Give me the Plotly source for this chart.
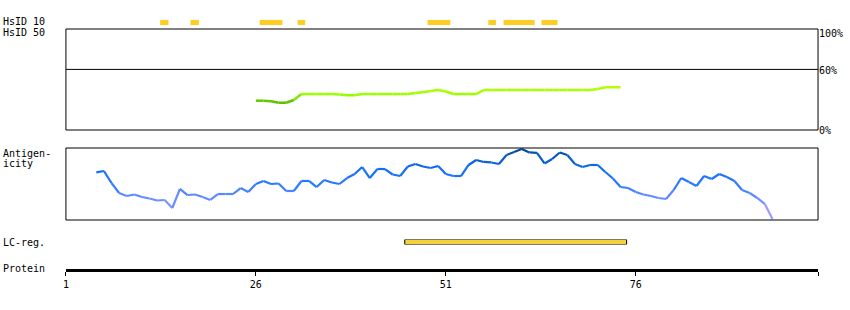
import plotly.graph_objects as go

W, H = 850, 310

# ---------------- data ----------------
protein_len = 100
axis_ticks = [1, 26, 51, 76]

# HsID 10 segments (residue start, end)
hsid10_start = [13.4, 17.4, 26.5, 31.5, 48.6, 56.6, 58.6, 63.6]
hsid10_end = [14.5, 18.5, 29.5, 32.5, 51.6, 57.6, 62.7, 65.7]

# HsID 50 identity (%) for residues 26..74
hsid50_pos = list(range(26, 75))
hsid50_pct = [29.0, 29.0, 28.5, 27.0, 27.0, 29.7, 35.6, 35.6, 35.6, 35.6,
              35.6, 35.1, 34.4, 34.4, 35.6, 35.6, 35.6, 35.6, 35.6, 35.6,
              35.6, 36.6, 37.3, 38.6, 39.6, 38.1, 35.6, 35.6, 35.6, 35.6,
              39.6, 39.6, 39.6, 39.6, 39.6, 39.6, 39.6, 39.6, 39.6, 39.6,
              39.6, 39.6, 39.6, 39.6, 39.6, 40.6, 42.3, 42.3, 42.3]

# Antigenicity score (0..1) for residues 5..94
antig_pos = list(range(5, 95))
antig_val = [0.662, 0.681, 0.514, 0.375, 0.333, 0.354, 0.319, 0.299, 0.271, 0.278,
             0.167, 0.431, 0.347, 0.354, 0.319, 0.278, 0.361, 0.361, 0.361, 0.444,
             0.389, 0.500, 0.542, 0.500, 0.507, 0.403, 0.403, 0.542, 0.542, 0.458,
             0.556, 0.521, 0.500, 0.583, 0.639, 0.736, 0.583, 0.708, 0.708, 0.632,
             0.611, 0.743, 0.778, 0.743, 0.722, 0.750, 0.639, 0.611, 0.611, 0.764,
             0.833, 0.806, 0.799, 0.778, 0.903, 0.944, 0.986, 0.938, 0.931, 0.785,
             0.847, 0.938, 0.903, 0.778, 0.736, 0.764, 0.764, 0.667, 0.576, 0.458,
             0.444, 0.389, 0.354, 0.333, 0.306, 0.292, 0.417, 0.583, 0.528, 0.472,
             0.611, 0.569, 0.639, 0.597, 0.542, 0.417, 0.375, 0.306, 0.222, 0.014]

# Low complexity region
lc_start = [45.6]
lc_end = [74.8]

# ---------------- helpers ----------------
X_OFF, X_W = 2.0, 848.0   # observed paper placement in the page


def px_x(p):  # pixel (from left) -> paper
    return (p - X_OFF) / X_W


def px_y(p):  # pixel (from top) -> paper
    return (H - p) / H


def lerp_color(stops, v):
    v = max(stops[0][0], min(stops[-1][0], v))
    for (a, ca), (b, cb) in zip(stops[:-1], stops[1:]):
        if a <= v <= b:
            t = 0 if b == a else (v - a) / (b - a)
            c = [round(ca[i] + (cb[i] - ca[i]) * t) for i in range(3)]
            return "rgb(%d,%d,%d)" % tuple(c)
    return "rgb(%d,%d,%d)" % tuple(stops[-1][1])


green_stops = [(27.0, (0x5c, 0xbf, 0x00)), (29.5, (0x66, 0xcc, 0x00)),
               (35.0, (0x99, 0xff, 0x00)), (42.5, (0xb4, 0xff, 0x00))]
blue_stops = [(0.0, (0xb8, 0xa8, 0xff)), (0.2, (0x85, 0x95, 0xff)),
              (0.35, (0x5a, 0x8a, 0xff)), (0.5, (0x2a, 0x7a, 0xff)),
              (0.7, (0x10, 0x70, 0xf5)), (0.85, (0x05, 0x5c, 0xcc)),
              (1.0, (0x00, 0x48, 0x98))]

x_dom = [px_x(65), px_x(818)]
mono = "DejaVu Sans Mono"

fig = go.Figure()

# HsID 10 strip
fig.add_trace(go.Bar(
    x=[e - s for s, e in zip(hsid10_start, hsid10_end)], base=hsid10_start,
    y=[0] * len(hsid10_start), orientation="h", width=1,
    marker=dict(color="#ffcc22", line=dict(width=0)),
    xaxis="x", yaxis="y3", hoverinfo="skip", showlegend=False))

# HsID 50 line (segment-coloured)
for i in range(len(hsid50_pos) - 1):
    m = (hsid50_pct[i] + hsid50_pct[i + 1]) / 2
    fig.add_trace(go.Scatter(
        x=hsid50_pos[i:i + 2], y=hsid50_pct[i:i + 2], mode="lines",
        line=dict(color=lerp_color(green_stops, m), width=2.5),
        xaxis="x", yaxis="y2", hoverinfo="skip", showlegend=False))

# Antigenicity line (segment-coloured)
for i in range(len(antig_pos) - 1):
    m = (antig_val[i] + antig_val[i + 1]) / 2
    fig.add_trace(go.Scatter(
        x=antig_pos[i:i + 2], y=antig_val[i:i + 2], mode="lines",
        line=dict(color=lerp_color(blue_stops, m), width=2.2),
        xaxis="x", yaxis="y", hoverinfo="skip", showlegend=False))

# LC region bar
fig.add_trace(go.Bar(
    x=[e - s for s, e in zip(lc_start, lc_end)], base=lc_start,
    y=[0] * len(lc_start), orientation="h", width=1,
    marker=dict(color="#f2d13a", line=dict(width=1, color="black")),
    xaxis="x", yaxis="y4", hoverinfo="skip", showlegend=False))

hidden_y = dict(visible=False, fixedrange=True)

fig.update_layout(
    width=W, height=H,
    margin=dict(l=0, r=0, t=0, b=0),
    paper_bgcolor="white", plot_bgcolor="rgba(0,0,0,0)",
    barmode="overlay", showlegend=False,
    xaxis=dict(
        domain=x_dom, range=[1, protein_len], anchor="free",
        position=px_y(269.5), showline=True, linecolor="black", linewidth=3,
        showgrid=False, zeroline=False, ticks="outside", ticklen=4,
        tickwidth=1, tickcolor="black",
        tickvals=axis_ticks + [protein_len],
        ticktext=[str(t) for t in axis_ticks] + [""],
        tickfont=dict(family=mono, size=10, color="black"),
        fixedrange=True),
    yaxis=dict(domain=[px_y(220), px_y(148)], range=[0, 1], anchor="x", **hidden_y),
    yaxis2=dict(domain=[px_y(130), px_y(29)], range=[0, 100], anchor="x", **hidden_y),
    yaxis3=dict(domain=[px_y(25), px_y(20)], range=[-0.5, 0.5], anchor="x", **hidden_y),
    yaxis4=dict(domain=[px_y(244.5), px_y(239.5)], range=[-0.5, 0.5], anchor="x", **hidden_y),
)

# panel frames
frame = dict(type="rect", xref="paper", yref="paper", line=dict(color="black", width=1),
             fillcolor="rgba(0,0,0,0)", layer="above")
fig.add_shape(x0=x_dom[0], x1=x_dom[1], y0=px_y(130), y1=px_y(29), **frame)
fig.add_shape(x0=x_dom[0], x1=x_dom[1], y0=px_y(220), y1=px_y(148), **frame)
fig.add_shape(type="line", xref="paper", yref="y2", x0=x_dom[0], x1=x_dom[1], y0=60, y1=60,
              line=dict(color="black", width=1))


# labels
def label(text, x, y, xanchor="left", size=10):
    fig.add_annotation(text=text, xref="paper", yref="paper", x=px_x(x), y=px_y(y),
                       xanchor=xanchor, yanchor="middle", showarrow=False,
                       borderpad=0, borderwidth=0,
                       font=dict(family=mono, size=size, color="black"))


label("HsID 10", 2, 21)
label("HsID 50", 2, 32)
label("Antigen-", 2, 153)
label("icity", 2, 163)
label("LC-reg.", 2, 242)
label("Protein", 2, 268)
label("100%", 819, 33)
label("60%", 819, 71)
label("0%", 819, 130)

fig.write_html("out.html")
